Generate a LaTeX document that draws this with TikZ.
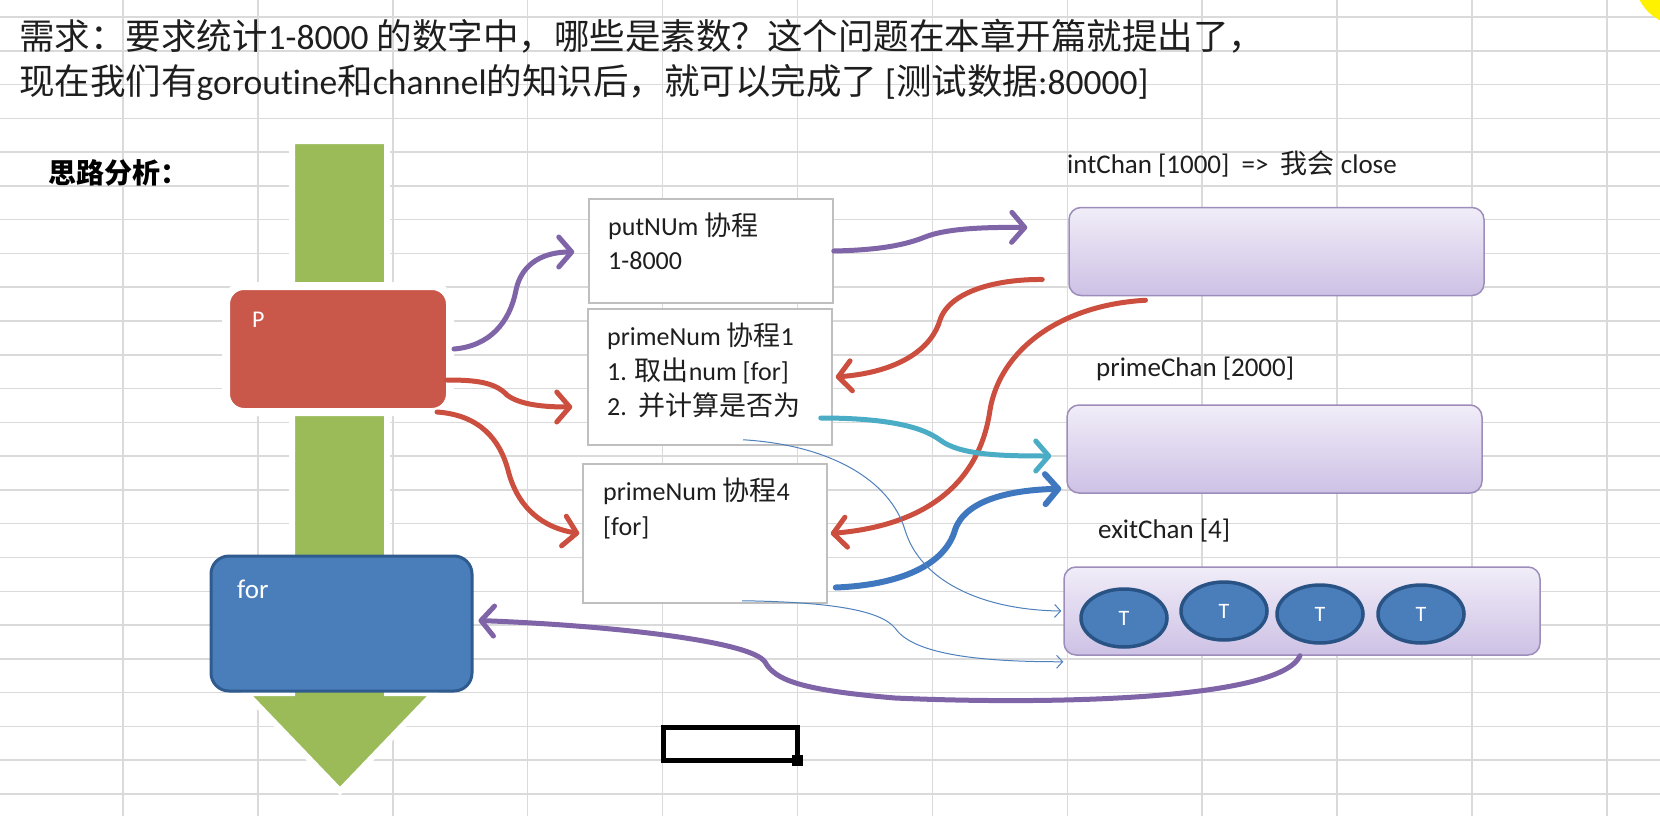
\documentclass[tikz,border=0pt]{standalone}
\usepackage{fontspec}
\setmainfont{Carlito}[Ligatures=NoCommon]
\newfontfamily\cjk{Noto Sans CJK SC}
\usetikzlibrary{arrows.meta,shapes.geometric,calc}
\definecolor{gridc}{HTML}{DADADA}
\definecolor{pred}{HTML}{C9574A}
\definecolor{fblue}{HTML}{4A7EBB}
\definecolor{fblueb}{HTML}{2F5B8E}
\definecolor{agreen}{HTML}{9BBB59}
\definecolor{apurple}{HTML}{7F64A8}
\definecolor{ared}{HTML}{CC4E3E}
\definecolor{acyan}{HTML}{4BACC6}
\definecolor{ablue}{HTML}{3F78BE}
\definecolor{thinblue}{HTML}{4F81BD}
\definecolor{chtop}{HTML}{F1EDF8}
\definecolor{chbot}{HTML}{CDC1E5}
\definecolor{chborder}{HTML}{9D8DBA}
\definecolor{tborder}{HTML}{285384}
\definecolor{boxb}{HTML}{BFBFBF}
\definecolor{txt}{HTML}{1E1E1E}
\definecolor{cursor}{HTML}{FFF200}
\begin{document}
\begin{tikzpicture}[x=1pt,y=-1pt,
  gridline/.style={gridc, line width=1.5pt},
  fatarrow/.style={line width=5pt, line cap=round, -{Straight Barb[length=13pt,width=30pt,round]}},
  thinarrow/.style={thinblue, line width=1pt, -{Straight Barb[length=6pt,width=13pt]}},
  tbox/.style={draw=boxb, line width=1.5pt, fill=white, inner sep=0pt, minimum width=244pt},
  chan/.style={rectangle, rounded corners=12pt, top color=chtop, bottom color=chbot, draw=chborder, line width=1.5pt, inner sep=0pt, minimum width=415pt, minimum height=88pt},
  tball/.style={ellipse, fill=fblue, draw=tborder, line width=3.5pt, minimum width=86pt, minimum height=58pt, inner sep=0pt, text=white, font=\fontsize{22}{24}\selectfont},
  boxtext/.style={anchor=base west, inner sep=0pt, text=txt, font=\fontsize{26}{30}\selectfont},
  chantext/.style={anchor=base west, inner sep=0pt, text=txt, font=\fontsize{27}{30}\selectfont},
  titletext/.style={anchor=base west, inner sep=0pt, text=txt, font=\fontsize{35.5}{40}\selectfont},
]
\useasboundingbox (0,0) rectangle (1660,816);
\fill[white] (0,0) rectangle (1660,816);
% spreadsheet grid
\foreach \i in {0,...,11} \draw[gridline] ({123+134.9*\i},0) -- ({123+134.9*\i},816);
\foreach \j in {0,...,23} \draw[gridline] (0,{17+33.78*\j}) -- (1660,{17+33.78*\j});
% cursor highlight
\fill[cursor] (1680,-20) circle (45);

% title
\node[titletext] (title1) at (19,50) {{\cjk 需求：要求统计}1-8000 {\cjk 的数字中，哪些是素数？这个问题在本章开篇就提出了，}};
\node[titletext] (title2) at (19,95) {{\cjk 现在我们有}goroutine{\cjk 和}channel{\cjk 的知识后，就可以完成了} [{\cjk 测试数据}:80000]};
\node[anchor=base west, inner sep=0pt, text=black, font=\cjk\bfseries\fontsize{28}{30}\selectfont] (idea) at (48,183) {思路分析：};

% big green arrow
\draw[white, line width=6pt, fill=agreen, line join=miter]
  (292,141) -- (387,141) -- (387,693) -- (434,693) -- (340,791) -- (246,693) -- (292,693) -- cycle;

% P and for boxes
\node[draw=white, line width=8pt, fill=pred, rounded corners=18pt, minimum width=224pt, minimum height=126pt, inner sep=0pt] (P) at (338,349) {};
\node[anchor=base west, inner sep=0pt, text=white, font=\fontsize{24}{28}\selectfont] (Plabel) at (252,327) {P};
\node[fill=fblue, draw=fblueb, line width=3pt, rounded corners=18pt, minimum width=261pt, minimum height=135pt, inner sep=0pt] (forb) at (341.5,623.5) {};
\node[anchor=base west, inner sep=0pt, text=white, font=\fontsize{27}{30}\selectfont] (forlabel) at (237,598) {for};

% goroutine boxes
\node[tbox, minimum height=104pt] (put) at (711,251) {};
\node[boxtext] (putl1) at (608,235) {putNUm {\cjk\fontsize{27}{30}\selectfont 协程}};
\node[boxtext] (putl2) at (608,269) {1-8000};
\node[tbox, minimum height=136pt] (pn1) at (710,377) {};
\node[boxtext] (pn1l1) at (607,345) {primeNum {\cjk\fontsize{27}{30}\selectfont 协程}1};
\node[boxtext] (pn1l2) at (607,380) {1. {\cjk\fontsize{27}{30}\selectfont 取出}num [for]};
\node[boxtext] (pn1l3) at (607,415) {2.\ \ {\cjk\fontsize{27}{30}\selectfont 并计算是否为}};
\node[tbox, minimum height=139pt] (pn4) at (705,533.5) {};
\node[boxtext] (pn4l1) at (603,500) {primeNum {\cjk\fontsize{27}{30}\selectfont 协程}4};
\node[boxtext] (pn4l2) at (603,535) {[for]};

% channels
\node[chantext] (intcl) at (1067,173) {intChan [1000]\ \ =>\ \ {\cjk 我会} close};
\node[chan] (intc) at (1276.5,251.5) {};
\node[chantext] (pcl) at (1096,376) {primeChan [2000]};
\node[chan] (pc) at (1274.5,449) {};
\node[chantext] (ecl) at (1098,538) {exitChan [4]};
\node[chan, minimum width=476pt] (ec) at (1302,611) {};
\node[tball] (t1) at (1124,618) {T};
\node[tball] (t2) at (1224,611) {T};
\node[tball] (t3) at (1320,614) {T};
\node[tball] (t4) at (1421,614) {T};

% connectors
\draw[fatarrow, apurple] (P.east) .. controls (490,346) and (510,322) .. (516,290)
   .. controls (522,262) and (545,252) .. ([shift={(-14,1)}]put.west);
\draw[fatarrow, ared] ([shift={(-7,31)}]P.east) .. controls (475,380) and (495,382) .. (507,395)
   .. controls (520,405) and (545,407) .. ([shift={(-15,30)}]pn1.west);
\draw[fatarrow, ared] ([shift={(-17,-4)}]P.south east) .. controls (480,415) and (500,440) .. (508,470)
   .. controls (518,510) and (545,528) .. ([xshift=-3pt]pn4.west);
\draw[fatarrow, apurple] (put.east) .. controls (880,250) and (905,245) .. (925,237)
   .. controls (945,229) and (980,227) .. ([shift={(-41,-24)}]intc.west);
\draw[fatarrow, ared] ([shift={(-26,28)}]intc.west) .. controls (1000,279) and (950,290) .. (940,320)
   .. controls (932,348) and (900,372) .. ([xshift=3pt]pn1.east);
\draw[fatarrow, ared] ([shift={(-131,4)}]intc.south) .. controls (1060,305) and (1000,350) .. (990,410)
   .. controls (980,480) and (930,525) .. ([xshift=3pt]pn4.east);
\draw[fatarrow, acyan] ([shift={(-12,41)}]pn1.east) .. controls (880,418) and (920,425) .. (940,440)
   .. controls (960,455) and (1000,456) .. ([shift={(-15,7)}]pc.west);
\draw[fatarrow, ablue, line width=6pt] ([shift={(8,54)}]pn4.east) .. controls (900,585) and (945,565) .. (955,530)
   .. controls (965,500) and (1010,490) .. ([shift={(-5,-5)}]pc.south west);
\draw[thinarrow] ([shift={(33,-6)}]pn1.south) .. controls (830,445) and (890,480) .. (905,530)
   .. controls (920,580) and (980,610) .. ([xshift=-2pt]ec.west);
\draw[thinarrow] ([shift={(37,-3)}]pn4.south) .. controls (830,602) and (880,610) .. (895,628)
   .. controls (910,650) and (960,662) .. ([shift={(0,6)}]ec.south west);
\draw[fatarrow, apurple] ([xshift=-2pt]ec.south) .. controls (1280,700) and (1050,705) .. (895,698)
   .. controls (800,690) and (775,680) .. (765,662)
   .. controls (750,640) and (600,625) .. ([shift={(5,-3)}]forb.east);

% selected cell
\draw[black, line width=5pt] (663,727) rectangle (797,760);
\fill[black] (792,755) rectangle (803,766);
\end{tikzpicture}
\end{document}
